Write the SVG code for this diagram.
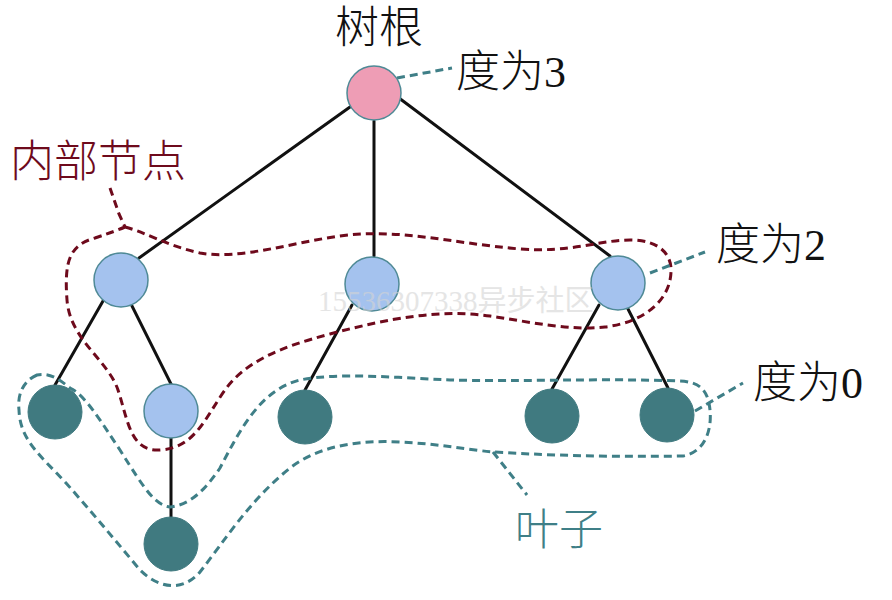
<svg xmlns="http://www.w3.org/2000/svg" width="892" height="600" viewBox="0 0 892 600">
<style>
.edge{stroke:#111;stroke-width:3;fill:none;stroke-linecap:round}
.lead{stroke:#3F7F87;stroke-width:3;fill:none;stroke-dasharray:8 5}
.maroon{stroke:#6E0A1C;stroke-width:3;fill:none;stroke-dasharray:8 5}
.teal{stroke:#3F7F87;stroke-width:3;fill:none;stroke-dasharray:8 5}
.root{fill:#EE9DB5;stroke:#4F8A96;stroke-width:1.5}
.inner{fill:#A4C2EE;stroke:#4F8A96;stroke-width:1.5}
.leaf{fill:#407A80;stroke:#407A80;stroke-width:1}
.t{font-family:"Liberation Serif","Noto Sans CJK SC",serif;font-size:44px;font-weight:300}
</style>
<rect width="892" height="600" fill="#fff"/>
<g id="connectors">
<line class="edge" x1="350" y1="107" x2="139" y2="258"/>
<line class="edge" x1="374" y1="121" x2="374" y2="256"/>
<line class="edge" x1="399" y1="98" x2="610" y2="256"/>
<line class="edge" x1="103" y1="301" x2="55" y2="385"/>
<line class="edge" x1="132" y1="306" x2="171" y2="384"/>
<line class="edge" x1="352" y1="305" x2="305" y2="390"/>
<line class="edge" x1="599" y1="305" x2="552" y2="389"/>
<line class="edge" x1="628" y1="309" x2="668" y2="388"/>
<line class="edge" x1="171" y1="438" x2="171" y2="517"/>
</g>
<g id="group-internal">
<path class="maroon" d="M125,227 C145,232 165,245 200,253 C240,260 290,243 340,236 C400,228 450,243 520,249 C570,253 600,240 630,240 C660,240 672,255 671,272 C670,300 645,322 605,327 C570,331 530,322 490,316 C440,309 390,318 330,334 C280,347 245,362 225,390 C205,418 195,448 160,450 C130,452 128,420 118,390 C108,360 70,340 67,300 C64,260 70,245 95,238 C110,233 118,230 125,227 Z"/>
<path class="maroon" d="M110,188 L119,214 L125,227"/>
</g>
<g id="group-leaves">
<path class="teal" d="M37,375 C25,380 17,392 19,410 C20,440 40,455 66,483 C90,510 115,540 140,570 C155,585 180,595 200,572 C225,540 250,500 290,468 C320,445 360,440 400,442 C440,444 470,450 493,452 C560,456 620,457 683,456 C705,452 712,430 710,410 C708,390 700,382 680,381 C600,378 520,382 450,380 C400,378 340,372 300,380 C260,390 240,430 220,468 C205,490 190,505 170,507 C155,505 145,490 120,450 C100,420 85,395 70,388 C60,380 50,372 37,375 Z"/>
<path class="teal" d="M493,452 L527,495"/>
</g>
<g id="leaders">
<line class="lead" x1="397" y1="78" x2="452" y2="68"/>
<line class="lead" x1="650" y1="273" x2="705" y2="252"/>
<line class="lead" x1="695" y1="411" x2="743" y2="383"/>
</g>
<g id="n-root"><circle class="root" cx="374" cy="93" r="27"/></g>
<g id="n-a"><circle class="inner" cx="121" cy="280" r="27"/></g>
<g id="n-b"><circle class="inner" cx="372" cy="284" r="27"/></g>
<g id="n-c"><circle class="inner" cx="618" cy="283" r="27"/></g>
<g id="n-d"><circle class="leaf" cx="55" cy="412" r="27"/></g>
<g id="n-e"><circle class="inner" cx="171" cy="411" r="27"/></g>
<g id="n-f"><circle class="leaf" cx="305" cy="417" r="27"/></g>
<g id="n-g"><circle class="leaf" cx="552" cy="416" r="27"/></g>
<g id="n-h"><circle class="leaf" cx="667" cy="415" r="27"/></g>
<g id="n-i"><circle class="leaf" cx="171" cy="544" r="27"/></g>
<g id="labels">
<text class="t" x="335" y="43" fill="#111">树根</text>
<text class="t" x="456" y="87" fill="#111">度为3</text>
<text class="t" x="716" y="260" fill="#111">度为2</text>
<text class="t" x="753" y="398" fill="#111">度为0</text>
<text class="t" x="10" y="177" fill="#6E0A1C">内部节点</text>
<text class="t" x="515" y="545" fill="#3F7F87">叶子</text>
</g>
<text x="318" y="311" font-family="Liberation Serif,Noto Sans CJK SC,serif" font-size="29" fill="#d4d4d4" opacity="0.6">15536307338异步社区</text>
</svg>
